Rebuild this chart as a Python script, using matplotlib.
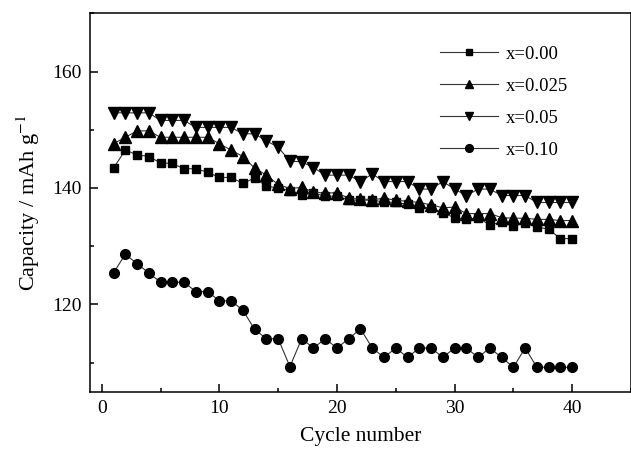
import matplotlib
matplotlib.use("Agg")
import matplotlib.pyplot as plt
from matplotlib.ticker import MultipleLocator

plt.rcParams['font.family'] = ['Liberation Serif', 'DejaVu Serif']
plt.rcParams['mathtext.fontset'] = 'stix'

# cycle number and discharge capacity (mAh/g)
cycles = list(range(1, 41))

cap_000 = [143.4, 146.5, 145.7, 145.4, 144.3, 144.2, 143.3, 143.3, 142.7, 141.8,
           141.8, 140.8, 141.7, 140.3, 140.0, 139.5, 138.8, 139.1, 138.6, 138.6,
           137.9, 137.9, 137.9, 137.6, 137.5, 137.2, 136.6, 136.6, 135.7, 134.9,
           134.6, 134.9, 133.6, 134.2, 133.5, 133.9, 133.3, 132.9, 131.3, 131.3]

cap_0025 = [147.6, 148.7, 149.8, 149.8, 148.7, 148.7, 148.7, 148.7, 148.7, 147.6,
            146.5, 145.4, 143.4, 142.2, 140.6, 139.9, 140.1, 139.3, 139.1, 139.2,
            138.2, 138.1, 138.0, 138.2, 137.9, 137.7, 137.5, 137.1, 136.6, 136.7,
            135.6, 135.6, 135.6, 134.9, 134.8, 134.8, 134.6, 134.6, 134.4, 134.4]

cap_005 = [152.9, 152.9, 152.9, 152.9, 151.6, 151.6, 151.6, 150.4, 150.4, 150.4,
           150.4, 149.3, 149.3, 148.1, 147.0, 144.6, 144.5, 143.5, 142.2, 142.2,
           142.2, 141.1, 142.4, 141.1, 141.1, 141.1, 139.8, 139.8, 141.1, 139.8,
           138.7, 139.8, 139.8, 138.7, 138.7, 138.7, 137.5, 137.5, 137.5, 137.5]

cap_010 = [125.4, 128.6, 127.0, 125.4, 123.8, 123.8, 123.8, 122.2, 122.2, 120.6,
           120.6, 119.0, 115.7, 114.1, 114.1, 109.3, 114.1, 112.5, 114.1, 112.5,
           114.1, 115.8, 112.5, 110.9, 112.5, 110.9, 112.5, 112.5, 110.9, 112.5,
           112.5, 110.9, 112.5, 110.9, 109.2, 112.5, 109.2, 109.2, 109.2, 109.2]

labels = ['x=0.00', 'x=0.025', 'x=0.05', 'x=0.10']

fig = plt.figure(figsize=(6.31, 4.51), dpi=100)
ax = fig.add_axes([0.1426, 0.1315, 0.8574, 0.839])

ax.plot(cycles, cap_000, '-s', color='#333333', lw=0.8, mfc='k', mec='k', ms=6.2, label=labels[0])
ax.plot(cycles, cap_0025, '-^', color='#333333', lw=0.8, mfc='k', mec='k', ms=8, label=labels[1])
ax.plot(cycles, cap_005, '-v', color='#333333', lw=0.8, mfc='k', mec='k', ms=8, label=labels[2])
ax.plot(cycles, cap_010, '-o', color='#333333', lw=0.8, mfc='k', mec='k', ms=7, label=labels[3])

ax.set_xlim(-1, 45)
ax.set_ylim(105, 170)
ax.xaxis.set_major_locator(MultipleLocator(10))
ax.xaxis.set_minor_locator(MultipleLocator(5))
ax.yaxis.set_major_locator(MultipleLocator(20))
ax.yaxis.set_minor_locator(MultipleLocator(10))
ax.tick_params(which='both', direction='in', top=False, right=False, width=1.1)
ax.tick_params(which='major', length=5.5, labelsize=14, pad=6)
ax.tick_params(which='minor', length=3)
for sp in ax.spines.values():
    sp.set_linewidth(1.1)

ax.set_xlabel('Cycle number', fontsize=15.5, labelpad=7)
ax.set_ylabel('Capacity / mAh g$^{-1}$', fontsize=16, labelpad=7)

ax.legend(loc='upper left', bbox_to_anchor=(0.647, 0.915), frameon=False,
          fontsize=13.5, handlelength=3.1, handletextpad=0.4, labelspacing=0.8,
          borderpad=0, borderaxespad=0, markerscale=0.8)

fig.savefig('out.png', dpi=100)
